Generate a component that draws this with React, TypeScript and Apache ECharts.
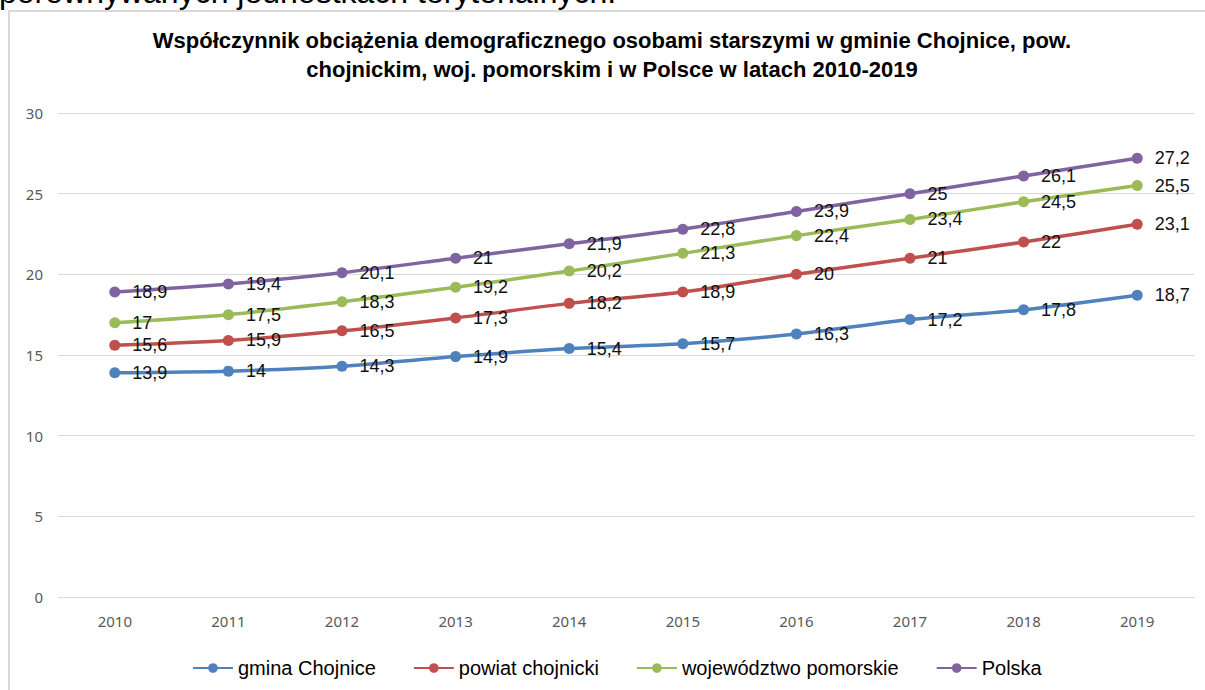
import React, { useEffect, useRef } from "react";
import * as echarts from "echarts";

const years = ["2010", "2011", "2012", "2013", "2014", "2015", "2016", "2017", "2018", "2019"];
const gmina = [13.9, 14, 14.3, 14.9, 15.4, 15.7, 16.3, 17.2, 17.8, 18.7];
const powiat = [15.6, 15.9, 16.5, 17.3, 18.2, 18.9, 20, 21, 22, 23.1];
const wojewodztwo = [17, 17.5, 18.3, 19.2, 20.2, 21.3, 22.4, 23.4, 24.5, 25.5];
const polska = [18.9, 19.4, 20.1, 21, 21.9, 22.8, 23.9, 25, 26.1, 27.2];

const seriesNames = ["gmina Chojnice", "powiat chojnicki", "województwo pomorskie", "Polska"];
const seriesColors = ["#4F81BD", "#C0504D", "#9BBB59", "#8064A2"];
const seriesData = [gmina, powiat, wojewodztwo, polska];

const titleText =
  "Współczynnik obciążenia demograficznego osobami starszymi w gminie Chojnice, pow.\nchojnickim, woj. pomorskim i w Polsce w latach 2010-2019";
const pageText = "porównywanych jednostkach terytorialnych.";

export default function App() {
  const ref = useRef<HTMLDivElement>(null);

  useEffect(() => {
    if (!ref.current) return;
    const chart = echarts.init(ref.current, null, { renderer: "svg" });
    const option: any = {
      animation: false,
      backgroundColor: "#ffffff",
      graphic: [
        {
          type: "rect",
          z: 0,
          shape: { x: 9, y: 11, width: 1210, height: 700 },
          style: { fill: "none", stroke: "#d9d9d9", lineWidth: 2 },
        },
        {
          type: "text",
          x: -1,
          y: -8,
          style: {
            text: pageText,
            fill: "#000000",
            font: "32px 'Liberation Sans', Arial, sans-serif",
            textAlign: "left",
            textVerticalAlign: "middle",
          },
        },
        {
          type: "text",
          x: 612,
          y: 26,
          style: {
            text: titleText,
            fill: "#000000",
            font: "bold 22px 'Liberation Sans', Arial, sans-serif",
            lineHeight: 29,
            textAlign: "center",
            textVerticalAlign: "top",
          },
        },
      ],
      legend: {
        left: 187,
        top: 653,
        itemWidth: 40,
        itemHeight: 12,
        itemGap: 37,
        textStyle: {
          color: "#000000",
          fontSize: 20,
          fontFamily: "'Liberation Sans', Arial, sans-serif",
        },
        data: seriesNames,
      },
      grid: { left: 58, right: 11, top: 113, bottom: 93, containLabel: false },
      xAxis: {
        type: "category",
        data: years,
        boundaryGap: true,
        axisLine: { show: true, lineStyle: { color: "#d9d9d9", width: 1 } },
        axisTick: { show: false },
        axisLabel: {
          color: "#595959",
          fontSize: 15,
          margin: 16,
          fontFamily: "'Noto Sans', 'Open Sans', sans-serif",
        },
      },
      yAxis: {
        type: "value",
        min: 0,
        max: 30,
        interval: 5,
        axisLine: { show: false },
        axisTick: { show: false },
        splitLine: { lineStyle: { color: "#d9d9d9", width: 1 } },
        axisLabel: {
          color: "#595959",
          fontSize: 15,
          margin: 15,
          fontFamily: "'Noto Sans', 'Open Sans', sans-serif",
        },
      },
      series: seriesNames.map((name, i) => ({
        name,
        type: "line",
        data: seriesData[i],
        smooth: 0.25,
        symbol: "circle",
        symbolSize: 11,
        color: seriesColors[i],
        lineStyle: { width: 3.5, color: seriesColors[i] },
        itemStyle: { color: seriesColors[i] },
        label: {
          show: true,
          position: "right",
          distance: 12,
          color: "#111111",
          fontSize: 18,
          fontFamily: "'Liberation Sans', Arial, sans-serif",
          formatter: (p: any) => String(p.value).replace(".", ","),
        },
      })),
    };
    chart.setOption(option);
    return () => chart.dispose();
  }, []);

  return (
    <div
      ref={ref}
      style={{ position: "absolute", left: 0, top: 0, width: 1205, height: 690 }}
    />
  );
}
